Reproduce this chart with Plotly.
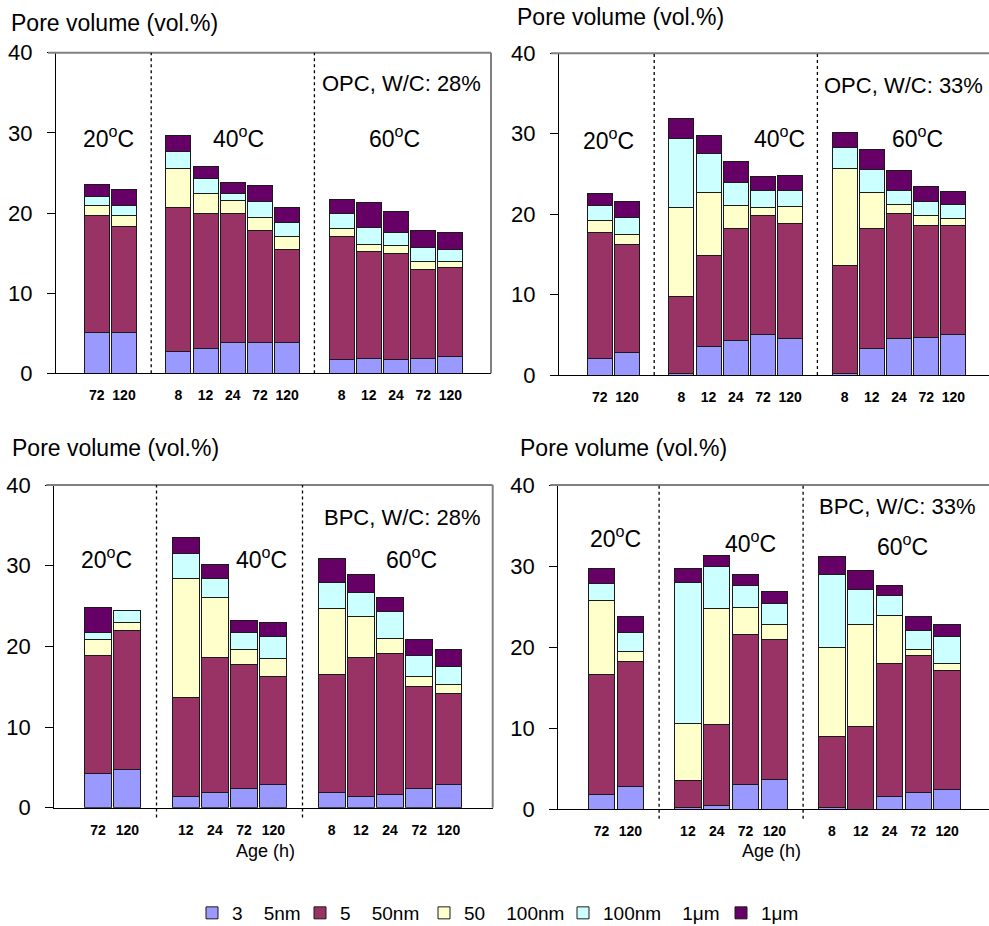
import plotly.graph_objects as go

# ---------------- data ----------------
NB = "\u00a0" * 4
SERIES = ["3" + NB + "5nm", "5" + NB + "50nm", "50" + NB + "100nm",
          "100nm" + NB + "1\u03bcm", "1\u03bcm"]
COLORS = ["#9999FF", "#993366", "#FFFFCC", "#CCFFFF", "#660066"]
TEMPS = ["20<sup>o</sup>C", "40<sup>o</sup>C", "60<sup>o</sup>C"]

# ages (h) per temperature group
AGES_OPC = [[72, 120], [8, 12, 24, 72, 120], [8, 12, 24, 72, 120]]
AGES_BPC = [[72, 120], [12, 24, 72, 120], [8, 12, 24, 72, 120]]

# OPC, W/C 28%
OPC28_3_5 = [5.1, 5.1, 2.7, 3.1, 3.9, 3.9, 3.9, 1.7, 1.9, 1.7, 1.9, 2.1]
OPC28_5_50 = [14.6, 13.2, 18.0, 16.9, 16.1, 13.9, 11.5, 15.4, 13.3, 13.3, 11.1, 11.1]
OPC28_50_100 = [1.2, 1.45, 4.8, 2.45, 1.5, 1.65, 1.7, 1.0, 0.9, 0.9, 1.0, 0.8]
OPC28_100_1u = [1.2, 1.2, 2.15, 1.9, 0.9, 2.0, 1.7, 1.85, 2.15, 1.7, 1.65, 1.4]
OPC28_1u = [1.5, 2.0, 2.0, 1.5, 1.45, 1.95, 1.9, 1.75, 3.0, 2.6, 2.2, 2.2]

# OPC, W/C 33%
OPC33_3_5 = [2.1, 2.8, 0.2, 3.5, 4.3, 5.0, 4.5, 0.2, 3.3, 4.5, 4.7, 5.0]
OPC33_5_50 = [15.6, 13.45, 9.6, 11.4, 13.9, 14.85, 14.4, 13.4, 14.9, 15.6, 13.95, 13.65]
OPC33_50_100 = [1.45, 1.2, 11.05, 7.85, 2.9, 1.0, 2.0, 12.05, 4.55, 1.05, 1.2, 0.75]
OPC33_100_1u = [1.9, 2.1, 8.55, 4.8, 2.85, 2.1, 2.1, 2.6, 2.85, 1.85, 1.75, 1.85]
OPC33_1u = [1.55, 2.05, 2.5, 2.2, 2.65, 1.75, 1.75, 1.9, 2.45, 2.45, 1.85, 1.55]

# BPC, W/C 28%
BPC28_3_5 = [4.25, 4.75, 1.35, 1.85, 2.4, 2.85, 1.85, 1.35, 1.6, 2.4, 2.85]
BPC28_5_50 = [14.65, 17.25, 12.3, 16.75, 15.3, 13.45, 14.65, 17.25, 17.5, 12.65, 11.25]
BPC28_50_100 = [1.9, 0.95, 14.8, 7.45, 1.95, 2.15, 8.15, 5.05, 1.9, 1.25, 1.2]
BPC28_100_1u = [0.95, 1.45, 3.05, 2.4, 2.1, 2.8, 3.3, 3.05, 3.35, 2.55, 2.15]
BPC28_1u = [3.1, 0.0, 2.0, 1.7, 1.5, 1.75, 3.0, 2.2, 1.7, 2.0, 2.15]

# BPC, W/C 33%
BPC33_3_5 = [1.8, 2.75, 0.2, 0.4, 3.0, 3.7, 0.2, 0.0, 1.6, 2.05, 2.35]
BPC33_5_50 = [14.8, 15.45, 3.3, 10.05, 18.6, 17.2, 8.8, 10.15, 16.4, 16.85, 14.75]
BPC33_50_100 = [9.1, 1.25, 7.1, 14.25, 3.3, 1.9, 10.9, 12.65, 5.95, 0.8, 0.9]
BPC33_100_1u = [2.1, 2.35, 17.4, 5.2, 2.7, 2.55, 9.05, 4.3, 2.4, 2.3, 3.3]
BPC33_1u = [1.9, 1.95, 1.7, 1.45, 1.4, 1.45, 2.2, 2.4, 1.25, 1.75, 1.5]

PANELS = [
    dict(label="OPC, W/C: 28%", ages=AGES_OPC,
         series=[OPC28_3_5, OPC28_5_50, OPC28_50_100, OPC28_100_1u, OPC28_1u]),
    dict(label="OPC, W/C: 33%", ages=AGES_OPC,
         series=[OPC33_3_5, OPC33_5_50, OPC33_50_100, OPC33_100_1u, OPC33_1u]),
    dict(label="BPC, W/C: 28%", ages=AGES_BPC,
         series=[BPC28_3_5, BPC28_5_50, BPC28_50_100, BPC28_100_1u, BPC28_1u]),
    dict(label="BPC, W/C: 33%", ages=AGES_BPC,
         series=[BPC33_3_5, BPC33_5_50, BPC33_50_100, BPC33_100_1u, BPC33_1u]),
]

# ---------------- layout geometry (page pixels) ----------------
W, H = 989, 926
FONT = "Liberation Sans, Arial, sans-serif"
GEOM = [
    dict(l=56, r=491, t=52.7, b=373.3, slot=27.2),
    dict(l=559, r=None, t=53.3, b=375.0, slot=27.2),
    dict(l=54.3, r=492.7, t=485.0, b=807.7, slot=29.2),
    dict(l=558.3, r=None, t=485.0, b=809.0, slot=28.8),
]
TITLE_POS = [(9, 23), (515, 17), (10, 448), (518, 448)]
LABEL_POS = [(401, 83), (903, 85), (402, 517), (897, 507)]
TEMP_POS = [
    [(108, 137), (238, 137), (394, 137)],
    [(608, 139), (779, 137), (917, 137)],
    [(106, 558), (261, 558), (411, 558)],
    [(615, 537), (750, 542), (902, 545)],
]
AGE_TITLE_POS = [(265, 851), (771, 851)]
LEGEND_SWATCH_X = [212, 320, 444, 583, 741]
LEGEND_Y = 913


def px_x(x):
    return x / W


def px_y(y):
    return 1 - y / H


fig = go.Figure()
shapes = []
annotations = []

for p, (panel, g) in enumerate(zip(PANELS, GEOM)):
    # bar positions derived from the group structure: one empty slot between groups
    xs, texts, dividers = [], [], []
    pos = 1.5
    for gi, ages in enumerate(panel["ages"]):
        for a in ages:
            xs.append(pos)
            texts.append(str(a))
            pos += 1
        if gi < len(panel["ages"]) - 1:
            dividers.append(pos)
            pos += 1
    ax = "" if p == 0 else str(p + 1)
    for s, (name, col, vals) in enumerate(zip(SERIES, COLORS, panel["series"])):
        fig.add_trace(go.Bar(
            x=xs, y=vals, name=name, width=0.92,
            marker=dict(color=col, line=dict(color="#1a1a1a", width=1)),
            xaxis="x" + ax, yaxis="y" + ax,
            showlegend=(p == 0),
            legend="legend" if s == 0 else "legend" + str(s + 1),
            hovertemplate="%{y}<extra>" + name + "</extra>",
        ))
    right = g["r"] if g["r"] is not None else W
    xd = [px_x(g["l"]), min(1.0, px_x(right))]
    yd = [px_y(g["b"]), px_y(g["t"])]
    fig.layout["xaxis" + ax] = dict(
        domain=xd, range=[0, (right - g["l"]) / g["slot"]], anchor="y" + ax,
        showline=True, linecolor="#000", linewidth=1.2,
        tickmode="array", tickvals=xs, ticktext=texts, ticks="",
        ticklabelstandoff=9,
        tickfont=dict(family=FONT, size=14, color="#000", weight="bold"),
        showgrid=False, zeroline=False, fixedrange=True,
    )
    fig.layout["yaxis" + ax] = dict(
        domain=yd, range=[0, 40], anchor="x" + ax,
        showline=True, linecolor="#000", linewidth=1.2,
        tickvals=[0, 10, 20, 30, 40], ticks="outside", ticklen=8,
        tickcolor="#000", ticklabelstandoff=10,
        tickfont=dict(family=FONT, size=22, color="#000"),
        showgrid=False, zeroline=False, fixedrange=True,
    )
    xr = "x" + ax
    # grey top / right frame
    shapes.append(dict(type="line", xref=xr + " domain", yref="y" + ax + " domain",
                       x0=-8 / (right - g["l"]), x1=1, y0=1, y1=1,
                       line=dict(color="#808080", width=2)))
    if g["r"] is not None:
        shapes.append(dict(type="line", xref=xr + " domain", yref="y" + ax + " domain",
                           x0=1, x1=1, y0=0, y1=1,
                           line=dict(color="#808080", width=2)))
    for d in dividers:
        shapes.append(dict(type="line", xref=xr, yref="y" + ax + " domain",
                           x0=d, x1=d, y0=0 if p < 2 else -0.03, y1=1,
                           line=dict(color="#000", width=1.3, dash="dot")))
    # texts
    tx, ty = TITLE_POS[p]
    annotations.append(dict(text="Pore volume (vol.%)", xref="paper", yref="paper",
                            x=px_x(tx), y=px_y(ty), xanchor="left", yanchor="middle",
                            showarrow=False, font=dict(family=FONT, size=23, color="#000")))
    lx, ly = LABEL_POS[p]
    annotations.append(dict(text=panel["label"], xref="paper", yref="paper",
                            x=px_x(lx), y=px_y(ly), xanchor="center", yanchor="middle",
                            showarrow=False, font=dict(family=FONT, size=22, color="#000")))
    for t, (cx, cy) in zip(TEMPS, TEMP_POS[p]):
        annotations.append(dict(text=t, xref="paper", yref="paper",
                                x=px_x(cx), y=px_y(cy), xanchor="center", yanchor="middle",
                                showarrow=False, font=dict(family=FONT, size=23, color="#000")))

for ax_, ay_ in AGE_TITLE_POS:
    annotations.append(dict(text="Age (h)", xref="paper", yref="paper",
                            x=px_x(ax_), y=px_y(ay_), xanchor="center", yanchor="middle",
                            showarrow=False, font=dict(family=FONT, size=18, color="#000")))

legends = {}
for i, sx in enumerate(LEGEND_SWATCH_X):
    key = "legend" if i == 0 else "legend" + str(i + 1)
    legends[key] = dict(orientation="h", x=px_x(sx - 20), y=px_y(LEGEND_Y),
                        xanchor="left", yanchor="middle",
                        bgcolor="rgba(0,0,0,0)", borderwidth=0,
                        font=dict(family=FONT, size=19, color="#000"),
                        itemwidth=30)

fig.update_layout(
    width=W, height=H,
    margin=dict(l=0, r=0, t=0, b=0, pad=0, autoexpand=False),
    paper_bgcolor="white", plot_bgcolor="white",
    barmode="stack",
    shapes=shapes, annotations=annotations,
    showlegend=True,
    font=dict(family=FONT),
    **legends,
)

fig.write_html("out.html", config={"displayModeBar": False},
               post_script="document.body.style.margin='0';"
                           "document.body.style.overflow='hidden';")
